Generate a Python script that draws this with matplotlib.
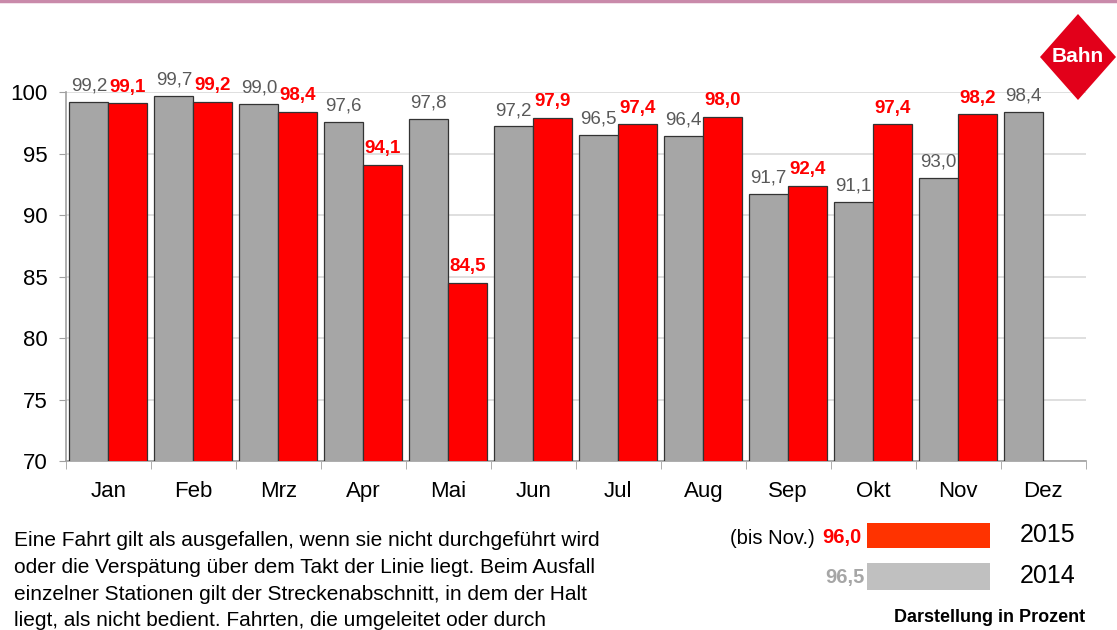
import numpy as np
import matplotlib
matplotlib.use("Agg")
import matplotlib.pyplot as plt
from matplotlib.patches import Polygon, Rectangle

plt.rcParams['font.family'] = ['Liberation Sans', 'DejaVu Sans']

monate = ["Jan", "Feb", "Mrz", "Apr", "Mai", "Jun", "Jul", "Aug", "Sep", "Okt", "Nov", "Dez"]
werte_2014 = [99.2, 99.7, 99.0, 97.6, 97.8, 97.2, 96.5, 96.4, 91.7, 91.1, 93.0, 98.4]
werte_2015 = [99.1, 99.2, 98.4, 94.1, 84.5, 97.9, 97.4, 98.0, 92.4, 97.4, 98.2]
y_ticks = [70, 75, 80, 85, 90, 95, 100]

schnitt_2015 = "96,0"
schnitt_2014 = "96,5"
fussnote = ["Eine Fahrt gilt als ausgefallen, wenn sie nicht durchgeführt wird",
            "oder die Verspätung über dem Takt der Linie liegt. Beim Ausfall",
            "einzelner Stationen gilt der Streckenabschnitt, in dem der Halt",
            "liegt, als nicht bedient. Fahrten, die umgeleitet oder durch"]

ROT = "#ff0000"
GRAU = "#a6a6a6"
TEXTGRAU = "#595959"

fig = plt.figure(figsize=(11.17, 6.3), dpi=100)
ax = fig.add_axes([0.059, 0.268, 0.913, 0.586])

x = np.arange(len(monate))
b = 0.46
ax.bar(x[:len(werte_2014)] - b / 2, werte_2014, width=b, color=GRAU,
       edgecolor="#333333", linewidth=0.9, zorder=3)
ax.bar(x[:len(werte_2015)] + b / 2, werte_2015, width=b, color=ROT,
       edgecolor="#333333", linewidth=0.9, zorder=3)

for i, v in enumerate(werte_2014):
    ax.text(i - b / 2, v + 0.6, f"{v:.1f}".replace(".", ","), ha="center", va="bottom",
            fontsize=13.5, color=TEXTGRAU, clip_on=False)
for i, v in enumerate(werte_2015):
    ax.text(i + b / 2, v + 0.6, f"{v:.1f}".replace(".", ","), ha="center", va="bottom",
            fontsize=13.5, color=ROT, fontweight="bold", clip_on=False)

ax.set_xlim(-0.5, len(monate) - 0.5)
ax.set_ylim(70, 100)
ax.set_yticks(y_ticks)
ax.set_yticklabels([str(t) for t in y_ticks], fontsize=16)
ax.set_xticks(x)
ax.set_xticklabels(monate, fontsize=16)
ax.set_xticks(np.arange(-0.5, len(monate)), minor=True)
ax.tick_params(axis="x", which="major", length=0, pad=14)
ax.tick_params(axis="x", which="minor", length=6, color="#a0a0a0")
ax.tick_params(axis="y", length=5, color="#a0a0a0", pad=8)
ax.grid(axis="y", color="#d9d9d9", linewidth=1.2, zorder=0)
for s in ["top", "right"]:
    ax.spines[s].set_visible(False)
for s in ["left", "bottom"]:
    ax.spines[s].set_color("#a0a0a0")
    ax.spines[s].set_linewidth(1.2)

# pinke Linie oben
fig.add_artist(plt.Line2D([0, 1], [0.998, 0.998], color="#c98aaa", linewidth=2.5))

# Bahn-Logo
cx, cy = 1078 / 1117, 1 - 57 / 630
dx, dy = 38 / 1117, 43 / 630
fig.add_artist(Polygon([[cx - dx, cy], [cx, cy + dy], [cx + dx, cy], [cx, cy - dy]],
                       closed=True, facecolor="#e2001a", edgecolor="none",
                       transform=fig.transFigure))
fig.text(cx, cy, "Bahn", ha="center", va="center", color="white", fontsize=15,
         fontweight="bold")

# Fussnote
for i, zeile in enumerate(fussnote):
    fig.text(14 / 1117, 1 - (541 + i * 26.5) / 630, zeile, fontsize=15,
             va="center", ha="left", color="black")

# Legende
fig.text(815 / 1117, 1 - 538 / 630, "(bis Nov.)", ha="right", va="center",
         fontsize=14.5, color="black")
fig.text(822 / 1117, 1 - 538 / 630, schnitt_2015, ha="left", va="center",
         fontsize=14.5, color=ROT, fontweight="bold")
fig.text(865 / 1117, 1 - 577 / 630, schnitt_2014, ha="right", va="center",
         fontsize=14.5, color="#a6a6a6", fontweight="bold")
fig.add_artist(Rectangle((867 / 1117, 1 - 548 / 630), 123 / 1117, 25 / 630,
                         facecolor="#ff3300", edgecolor="none", transform=fig.transFigure))
fig.add_artist(Rectangle((867 / 1117, 1 - 590 / 630), 123 / 1117, 27 / 630,
                         facecolor="#c0c0c0", edgecolor="none", transform=fig.transFigure))
fig.text(1020 / 1117, 1 - 535 / 630, "2015", ha="left", va="center", fontsize=18)
fig.text(1020 / 1117, 1 - 576 / 630, "2014", ha="left", va="center", fontsize=18)
fig.text(1085 / 1117, 1 - 618 / 630, "Darstellung in Prozent", ha="right", va="center",
         fontsize=13, fontweight="bold")

fig.savefig("out.png", dpi=100)
